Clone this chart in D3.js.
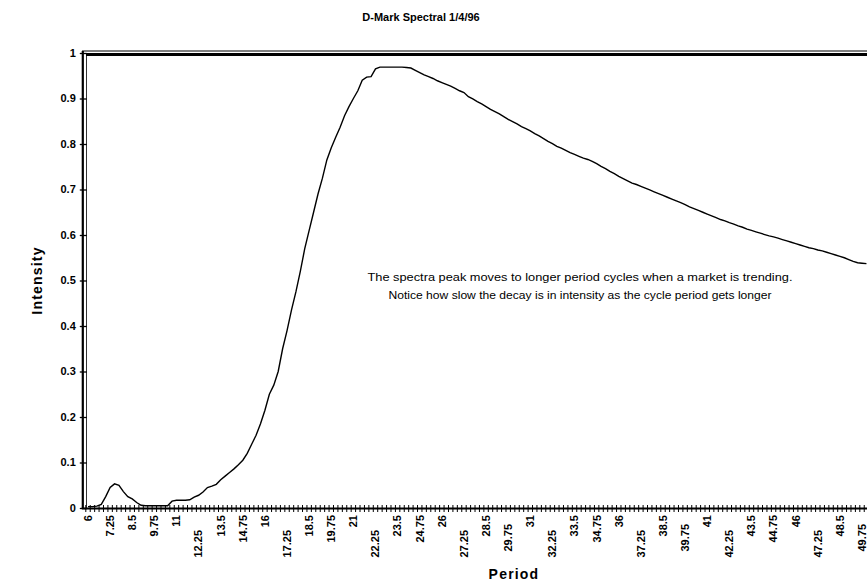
<!DOCTYPE html>
<html><head><meta charset="utf-8">
<script src="https://cdn.jsdelivr.net/npm/d3@7"></script>
<style>
html,body{margin:0;padding:0;background:#fff;}
svg{display:block;}
text{font-family:"Liberation Sans",Arial,sans-serif;fill:#000;}
</style></head>
<body>
<svg id="chart" width="867" height="582"></svg>
<script>
const title = "D-Mark Spectral 1/4/96";
const xTitle = "Period";
const yTitle = "Intensity";
const note = [
  "The spectra peak moves to longer period cycles when a market is trending.",
  "Notice how slow the decay is in intensity as the cycle period gets longer"
];
const periods = [
  6,6.25,6.5,6.75, 7,7.25,7.5,7.75, 8,8.25,8.5,8.75, 9,9.25,9.5,9.75,
  10,10.25,10.5,10.75, 11,11.25,11.5,11.75, 12,12.25,12.5,12.75, 13,13.25,13.5,13.75,
  14,14.25,14.5,14.75, 15,15.25,15.5,15.75, 16,16.25,16.5,16.75, 17,17.25,17.5,17.75,
  18,18.25,18.5,18.75, 19,19.25,19.5,19.75, 20,20.25,20.5,20.75, 21,21.25,21.5,21.75,
  22,22.25,22.5,22.75, 23,23.25,23.5,23.75, 24,24.25,24.5,24.75, 25,25.25,25.5,25.75,
  26,26.25,26.5,26.75, 27,27.25,27.5,27.75, 28,28.25,28.5,28.75, 29,29.25,29.5,29.75,
  30,30.25,30.5,30.75, 31,31.25,31.5,31.75, 32,32.25,32.5,32.75, 33,33.25,33.5,33.75,
  34,34.25,34.5,34.75, 35,35.25,35.5,35.75, 36,36.25,36.5,36.75, 37,37.25,37.5,37.75,
  38,38.25,38.5,38.75, 39,39.25,39.5,39.75, 40,40.25,40.5,40.75, 41,41.25,41.5,41.75,
  42,42.25,42.5,42.75, 43,43.25,43.5,43.75, 44,44.25,44.5,44.75, 45,45.25,45.5,45.75,
  46,46.25,46.5,46.75, 47,47.25,47.5,47.75, 48,48.25,48.5,48.75, 49,49.25,49.5,49.75,
  50
];
const intensity = [
  0.003,0.003,0.004,0.008, 0.025,0.045,0.053,0.050, 0.036,0.025,0.020,0.012, 0.006,0.005,0.005,0.005,
  0.005,0.005,0.005,0.015, 0.017,0.017,0.017,0.018, 0.024,0.028,0.035,0.045, 0.048,0.052,0.062,0.070,
  0.078,0.086,0.095,0.105, 0.120,0.140,0.160,0.185, 0.215,0.250,0.270,0.300, 0.350,0.390,0.435,0.475,
  0.520,0.570,0.610,0.650, 0.690,0.725,0.765,0.792, 0.815,0.837,0.862,0.882, 0.900,0.917,0.940,0.947,
  0.948,0.965,0.969,0.969, 0.969,0.969,0.969,0.969, 0.968,0.967,0.962,0.957, 0.952,0.948,0.944,0.939,
  0.935,0.931,0.927,0.922, 0.917,0.913,0.904,0.899, 0.893,0.888,0.882,0.876, 0.871,0.866,0.860,0.854,
  0.849,0.844,0.838,0.834, 0.829,0.823,0.818,0.812, 0.806,0.801,0.795,0.791, 0.786,0.781,0.777,0.773,
  0.769,0.766,0.762,0.757, 0.751,0.746,0.740,0.735, 0.729,0.724,0.719,0.714, 0.711,0.707,0.703,0.699,
  0.695,0.691,0.687,0.683, 0.679,0.675,0.671,0.667, 0.662,0.658,0.654,0.650, 0.646,0.642,0.638,0.634,
  0.631,0.627,0.624,0.620, 0.617,0.613,0.610,0.607, 0.604,0.601,0.598,0.596, 0.593,0.590,0.587,0.584,
  0.581,0.578,0.575,0.572, 0.570,0.567,0.565,0.562, 0.559,0.556,0.553,0.550, 0.546,0.542,0.539,0.538,
  0.537
];
const yTicks = [0,0.1,0.2,0.3,0.4,0.5,0.6,0.7,0.8,0.9,1];
const labelEvery = 5;

const svg = d3.select("#chart");
const W = 867, H = 582;
const plotLeft = 85.8, bandW = 4.423;
const plotTop = 53, plotBottom = 508;

const x = d3.scaleBand().domain(periods).range([plotLeft, plotLeft + bandW * periods.length]);
const y = d3.scaleLinear().domain([0, 1]).range([plotBottom, plotTop]);
const cx = p => x(p) + x.bandwidth() / 2;

// title
svg.append("text").attr("x", 421).attr("y", 21).attr("text-anchor", "middle")
  .attr("font-size", 11).attr("font-weight", "bold").text(title);

// frame lines
svg.append("line").attr("x1", 82).attr("x2", W).attr("y1", 51).attr("y2", 51)
  .attr("stroke", "#000").attr("stroke-width", 1);
svg.append("line").attr("x1", 86).attr("x2", W).attr("y1", y(1) + 1.5).attr("y2", y(1) + 1.5)
  .attr("stroke", "#000").attr("stroke-width", 3);

// y axis
const yAxis = d3.axisLeft(y).tickValues(yTicks).tickSize(4)
  .tickFormat(d => d === 0 ? "0" : d === 1 ? "1" : d3.format(".1f")(d));
const gy = svg.append("g").attr("transform", `translate(${plotLeft - 3},0)`).call(yAxis);
gy.select(".domain").remove();
gy.selectAll(".tick line").attr("x1", -3).attr("x2", 4).attr("stroke", "#000").attr("stroke-width", 1.3);
gy.selectAll(".tick text").attr("x", -7).attr("dy", "0.3em").attr("font-size", 11).attr("font-weight", "bold")
  .attr("font-family", "Liberation Sans, Arial, sans-serif");
svg.append("line").attr("x1", plotLeft - 3).attr("x2", plotLeft - 3).attr("y1", 51).attr("y2", plotBottom + 1)
  .attr("stroke", "#000").attr("stroke-width", 2.2);
svg.append("line").attr("x1", plotLeft + 0.7).attr("x2", plotLeft + 0.7).attr("y1", 53).attr("y2", plotBottom)
  .attr("stroke", "#000").attr("stroke-width", 0.8);

// x axis line
svg.append("line").attr("x1", plotLeft - 4).attr("x2", W).attr("y1", plotBottom + 0.5).attr("y2", plotBottom + 0.5)
  .attr("stroke", "#000").attr("stroke-width", 2);
// tick marks at category boundaries
svg.append("g").selectAll("line").data(periods).join("line")
  .attr("x1", d => x(d)).attr("x2", d => x(d))
  .attr("y1", plotBottom - 3).attr("y2", plotBottom + 4)
  .attr("stroke", "#000").attr("stroke-width", 1);
// x labels
const labelled = periods.filter((d, i) => i % labelEvery === 0);
svg.append("g").selectAll("text").data(labelled).join("text")
  .attr("transform", (d, i) => {
    const s = String(d);
    let off = 0;
    if (s.endsWith(".25") && i > 1) off = 15;
    else if (/[2-4]9\.75$/.test(s)) off = 9;
    return `translate(${cx(d)},${515 + off}) rotate(-90)`;
  })
  .attr("text-anchor", "end").attr("dy", "0.35em")
  .attr("font-size", 11).attr("font-weight", "bold")
  .text(d => String(d));

// axis titles
svg.append("text").attr("transform", `translate(42,${(plotTop + plotBottom) / 2}) rotate(-90)`)
  .attr("text-anchor", "middle").attr("font-size", 14).attr("font-weight", "bold")
  .attr("letter-spacing", 1.2).text(yTitle);
svg.append("text").attr("x", 514).attr("y", 579).attr("text-anchor", "middle")
  .attr("font-size", 14).attr("font-weight", "bold").attr("letter-spacing", 1.2).text(xTitle);

// data line
const line = d3.line().x((d, i) => cx(periods[i])).y(d => y(d));
svg.append("path").datum(intensity).attr("d", line)
  .attr("fill", "none").attr("stroke", "#000").attr("stroke-width", 1.4);

// annotation
svg.append("g").selectAll("text").data(note).join("text")
  .attr("x", 580).attr("y", (d, i) => 281 + i * 18)
  .attr("text-anchor", "middle").attr("font-size", 10.5)
  .attr("font-family", "DejaVu Sans, sans-serif")
  .attr("textLength", (d, i) => i === 0 ? 425 : 383).attr("lengthAdjust", "spacingAndGlyphs")
  .text(d => d);
</script>
</body></html>
